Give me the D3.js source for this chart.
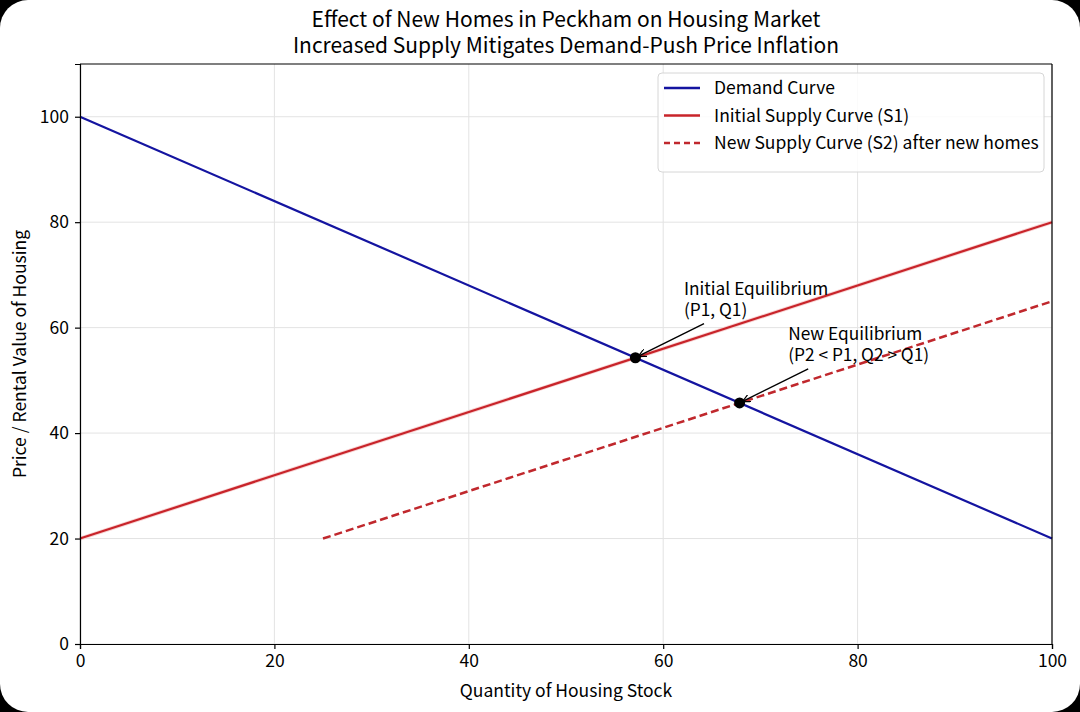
<!DOCTYPE html>
<html>
<head>
<meta charset="utf-8">
<script src="https://cdn.jsdelivr.net/npm/d3@7"></script>
<style>
  html, body { margin: 0; padding: 0; background: #000; }
  svg { display: block; }
  text { font-family: "Noto Sans CJK JP", "Noto Sans", sans-serif; fill: #000; }
</style>
</head>
<body>
<svg id="chart" width="1080" height="712"></svg>
<script>
// Chart data
const demandQ = [0, 100];
const demandP = [100, 20];
const supply1Q = [0, 100];
const supply1P = [20, 80];
const supply2Q = [25, 100];
const supply2P = [20, 65];
const eqQ = [57.14, 67.86];
const eqP = [54.29, 45.71];
const eqLabels = [["Initial Equilibrium", "(P1, Q1)"], ["New Equilibrium", "(P2 < P1, Q2 > Q1)"]];
const xTicks = [0, 20, 40, 60, 80, 100];
const yTicks = [0, 20, 40, 60, 80, 100];

const svg = d3.select("#chart");
const W = 1080, H = 712;
const margin = { left: 80, right: 28, top: 64, bottom: 68 };

// White card with rounded corners on black
svg.append("rect")
    .attr("x", 0).attr("y", 0)
    .attr("width", W).attr("height", H)
    .attr("rx", 28).attr("ry", 28)
    .attr("fill", "#fff");

const x = d3.scaleLinear().domain([0, 100]).range([margin.left, W - margin.right]);
const y = d3.scaleLinear().domain([0, 110]).range([H - margin.bottom, margin.top]);

// Grid
const grid = svg.append("g");
grid.selectAll(".gx").data(xTicks).enter().append("line")
    .attr("x1", d => x(d)).attr("x2", d => x(d))
    .attr("y1", y(0)).attr("y2", y(110))
    .attr("stroke", "#e3e3e3").attr("stroke-width", 1);
grid.selectAll(".gy").data(yTicks).enter().append("line")
    .attr("x1", x(0)).attr("x2", x(100))
    .attr("y1", d => y(d)).attr("y2", d => y(d))
    .attr("stroke", "#e3e3e3").attr("stroke-width", 1);

// Lines
const line = d3.line().x(d => x(d[0])).y(d => y(d[1]));
const demand = demandQ.map((q, i) => [q, demandP[i]]);
const supply1 = supply1Q.map((q, i) => [q, supply1P[i]]);
const supply2 = supply2Q.map((q, i) => [q, supply2P[i]]);

svg.append("path").datum(demand).attr("d", line)
    .attr("fill", "none").attr("stroke", "#1414a0").attr("stroke-width", 2.2);
svg.append("path").datum(supply1).attr("d", line)
    .attr("fill", "none").attr("stroke", "#f8d4d4").attr("stroke-width", 4);
svg.append("path").datum(supply1).attr("d", line)
    .attr("fill", "none").attr("stroke", "#c8242a").attr("stroke-width", 2.2);
svg.append("path").datum(supply2).attr("d", line)
    .attr("fill", "none").attr("stroke", "#c0282d").attr("stroke-width", 2.5)
    .attr("stroke-dasharray", "8,4");

// Axes
const xAxis = svg.append("g")
    .attr("transform", `translate(0,${y(0)})`)
    .call(d3.axisBottom(x).tickValues(xTicks).tickSize(5).tickPadding(6));
const yAxis = svg.append("g")
    .attr("transform", `translate(${x(0)},0)`)
    .call(d3.axisLeft(y).tickValues(yTicks).tickSize(5).tickPadding(6));
[xAxis, yAxis].forEach(a => {
    a.select(".domain").attr("stroke", "#000").attr("stroke-width", 1.2);
    a.selectAll(".tick line").attr("stroke", "#000").attr("stroke-width", 1.2);
    a.selectAll(".tick text").style("font-size", "17.5px").attr("fill", "#000");
});
// Frame: top and right spines
svg.append("line").attr("x1", x(0)).attr("x2", x(100)).attr("y1", y(110)).attr("y2", y(110))
    .attr("stroke", "#000").attr("stroke-width", 1.2);
svg.append("line").attr("x1", x(100)).attr("x2", x(100)).attr("y1", y(0)).attr("y2", y(110))
    .attr("stroke", "#000").attr("stroke-width", 1.2);

// Annotations
svg.append("defs").append("marker")
    .attr("id", "arrow").attr("viewBox", "0 0 10 10")
    .attr("refX", 9).attr("refY", 5)
    .attr("markerWidth", 8).attr("markerHeight", 8)
    .attr("markerUnits", "userSpaceOnUse")
    .attr("orient", "auto")
    .append("path").attr("d", "M0,0 L10,5 L0,10").attr("fill", "none")
    .attr("stroke", "#000").attr("stroke-width", 1.5);

eqQ.forEach((q, i) => {
    const px = x(q), py = y(eqP[i]);
    const tx = x(q + 5), ty = y(eqP[i] + 8);
    const t = svg.append("text").attr("x", tx).attr("y", ty - 21)
        .style("font-size", "17.3px");
    eqLabels[i].forEach((s, k) => {
        t.append("tspan").attr("x", tx).attr("dy", k === 0 ? 0 : 21).text(s);
    });
    // arrow from below the label to the point
    const sx = tx + 20, sy = ty + 8;
    const ang = Math.atan2(py - sy, px - sx);
    svg.append("line")
        .attr("x1", sx).attr("y1", sy)
        .attr("x2", px - Math.cos(ang) * 4).attr("y2", py - Math.sin(ang) * 4)
        .attr("stroke", "#000").attr("stroke-width", 1.4)
        .attr("marker-end", "url(#arrow)");
    svg.append("circle").attr("cx", px).attr("cy", py).attr("r", 5.5).attr("fill", "#000");
});

// Legend
const legend = svg.append("g").attr("transform", "translate(658,73)");
legend.append("rect").attr("width", 386).attr("height", 99).attr("rx", 4)
    .attr("fill", "#fff").attr("fill-opacity", 0.85)
    .attr("stroke", "#d6d6d6").attr("stroke-width", 1);
const legendItems = [
    { label: "Demand Curve", color: "#1414a0", dash: null },
    { label: "Initial Supply Curve (S1)", color: "#c8242a", dash: null },
    { label: "New Supply Curve (S2) after new homes", color: "#c0282d", dash: "6,4" }
];
legendItems.forEach((d, i) => {
    const ly = 15 + i * 27.5;
    legend.append("line").attr("x1", 6).attr("x2", 42).attr("y1", ly).attr("y2", ly)
        .attr("stroke", d.color).attr("stroke-width", 2.5)
        .attr("stroke-dasharray", d.dash);
    legend.append("text").attr("x", 56).attr("y", ly).attr("dy", "0.35em")
        .style("font-size", "17.5px").text(d.label);
});

// Titles
const title = svg.append("text").attr("text-anchor", "middle").style("font-size", "21px");
title.append("tspan").attr("x", (x(0) + x(100)) / 2).attr("y", 27)
    .text("Effect of New Homes in Peckham on Housing Market");
title.append("tspan").attr("x", (x(0) + x(100)) / 2).attr("y", 53)
    .text("Increased Supply Mitigates Demand-Push Price Inflation");
svg.append("text").attr("x", (x(0) + x(100)) / 2).attr("y", 697)
    .attr("text-anchor", "middle").style("font-size", "17.5px")
    .text("Quantity of Housing Stock");
svg.append("text")
    .attr("transform", `translate(26,${(y(0) + y(110)) / 2}) rotate(-90)`)
    .attr("text-anchor", "middle").style("font-size", "17.5px")
    .text("Price / Rental Value of Housing");
</script>
</body>
</html>
